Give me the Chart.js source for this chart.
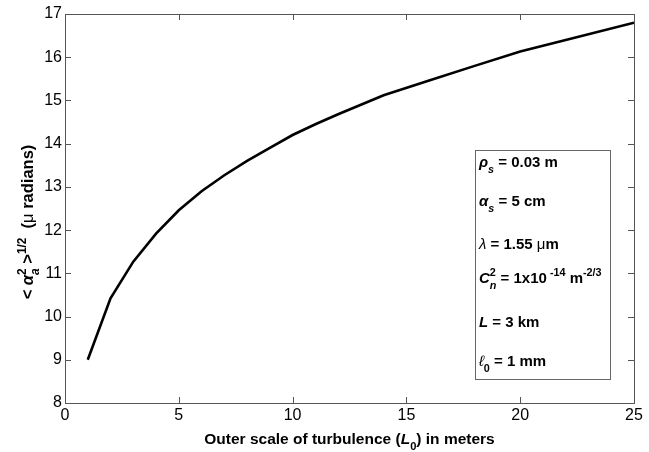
<!DOCTYPE html>
<html>
<head>
<meta charset="utf-8">
<script src="https://cdn.jsdelivr.net/npm/chart.js@4"></script>
<style>
    html, body { margin: 0; padding: 0; background: #fff; }
</style>
</head>
<body>
<canvas id="chart" width="649" height="452"></canvas>
<script>
// ---- Data ----
const outerScale = [1, 2, 3, 4, 5, 6, 7, 8, 9, 10, 11, 12, 13, 14, 16, 18, 20, 22, 25];
const rmsAngle = [9.0, 10.42, 11.27, 11.92, 12.46, 12.9, 13.27, 13.6, 13.9, 14.2, 14.45, 14.68, 14.9, 15.12, 15.46, 15.8, 16.13, 16.4, 16.8];
const xTicks = [0, 5, 10, 15, 20, 25];
const yTicks = [8, 9, 10, 11, 12, 13, 14, 15, 16, 17];

const FONT = '"Liberation Sans", Arial, Helvetica, sans-serif';

// rich text: parts of {t, k: 'sub'|'sup', i: italic, w: weight, keep: stack with next}
function richFont(p, size) {
    const sz = p.k ? size * 0.72 : size;
    return `${p.i ? 'italic ' : ''}${p.w || 'bold'} ${sz}px ${FONT}`;
}

function richWidth(ctx, parts, size) {
    let w = 0, held = 0;
    parts.forEach(p => {
        ctx.font = richFont(p, size);
        const tw = ctx.measureText(p.t).width;
        if (p.keep) { held = tw; return; }
        w += Math.max(tw, held);
        held = 0;
    });
    return w;
}

function drawRich(ctx, x, y, parts, size) {
    let cx = x, held = 0;
    ctx.textBaseline = 'alphabetic';
    ctx.textAlign = 'left';
    parts.forEach(p => {
        ctx.font = richFont(p, size);
        const dy = p.k === 'sub' ? size * 0.38 : p.k === 'sup' ? -size * 0.45 : 0;
        ctx.fillText(p.t, cx, y + dy);
        const tw = ctx.measureText(p.t).width;
        if (p.keep) { held = tw; return; }
        cx += Math.max(tw, held);
        held = 0;
    });
}

const legendLines = [
    [{t: 'ρ', i: 1}, {t: 's', k: 'sub', i: 1}, {t: ' = 0.03 m'}],
    [{t: 'α', i: 1}, {t: 's', k: 'sub', i: 1}, {t: ' = 5 cm'}],
    [{t: 'λ', i: 1, w: 'normal'}, {t: ' = 1.55 '}, {t: 'μ', w: 'normal'}, {t: 'm'}],
    [{t: 'C', i: 1}, {t: '2', k: 'sup', keep: 1}, {t: 'n', k: 'sub', i: 1}, {t: ' = 1x10'}, {t: ' -14', k: 'sup'}, {t: ' m'}, {t: '-2/3', k: 'sup'}],
    [{t: 'L', i: 1}, {t: ' = 3 km'}],
    [{t: 'ℓ', i: 1, w: 'normal'}, {t: '0', k: 'sub'}, {t: ' = 1 mm'}]
];
const legendBaselines = [167, 206, 249, 283, 327, 366];

const xTitle = [{t: 'Outer scale of turbulence ('}, {t: 'L', i: 1}, {t: '0', k: 'sub'}, {t: ') in meters'}];
const yTitle = [{t: '< '}, {t: 'α', i: 1}, {t: '2', k: 'sup', keep: 1}, {t: 'a', k: 'sub', i: 1}, {t: ' >'}, {t: '1/2', k: 'sup'}, {t: '  ('}, {t: 'μ', w: 'normal'}, {t: ' radians)'}];

const framePlugin = {
    id: 'frame',
    afterDraw(chart) {
        const ctx = chart.ctx;
        const a = chart.chartArea;
        const xs = chart.scales.x, ys = chart.scales.y;
        ctx.save();
        ctx.strokeStyle = '#555';
        ctx.lineWidth = 1;
        ctx.strokeRect(a.left + 0.5, a.top + 0.5, a.right - a.left, a.bottom - a.top);
        ctx.beginPath();
        xTicks.forEach(v => {
            const px = Math.round(xs.getPixelForValue(v)) + 0.5;
            ctx.moveTo(px, a.bottom); ctx.lineTo(px, a.bottom - 6);
            ctx.moveTo(px, a.top); ctx.lineTo(px, a.top + 6);
        });
        yTicks.forEach(v => {
            const py = Math.round(ys.getPixelForValue(v)) + 0.5;
            ctx.moveTo(a.left, py); ctx.lineTo(a.left + 6, py);
            ctx.moveTo(a.right, py); ctx.lineTo(a.right - 6, py);
        });
        ctx.stroke();

        // parameter box
        ctx.fillStyle = '#fff';
        ctx.strokeStyle = '#666';
        ctx.fillRect(475.5, 150.5, 135, 229);
        ctx.strokeRect(475.5, 150.5, 135, 229);
        ctx.fillStyle = '#000';
        legendLines.forEach((line, i) => drawRich(ctx, 479, legendBaselines[i], line, 15));

        // axis titles
        const xw = richWidth(ctx, xTitle, 15.5);
        drawRich(ctx, (a.left + a.right) / 2 - xw / 2, 444, xTitle, 15.5);

        const yw = richWidth(ctx, yTitle, 16.5);
        ctx.translate(33, 222);
        ctx.rotate(-Math.PI / 2);
        drawRich(ctx, -yw / 2, 0, yTitle, 16.5);
        ctx.restore();
    }
};

new Chart(document.getElementById('chart'), {
    type: 'line',
    data: {
        datasets: [{
            data: outerScale.map((x, i) => ({ x, y: rmsAngle[i] })),
            borderColor: '#000',
            borderWidth: 2.6,
            pointRadius: 0,
            tension: 0,
            fill: false
        }]
    },
    options: {
        responsive: false,
        animation: false,
        devicePixelRatio: 1,
        layout: { padding: { left: 0, top: 14, right: 15, bottom: 0 } },
        plugins: {
            legend: { display: false },
            tooltip: { enabled: false }
        },
        scales: {
            x: {
                type: 'linear',
                min: 0,
                max: 25,
                afterBuildTicks: s => { s.ticks = xTicks.map(v => ({ value: v })); },
                afterFit: s => { s.height = 49; },
                grid: { display: false, drawTicks: false },
                border: { display: false },
                ticks: { color: '#000', padding: 3, font: { family: FONT, size: 16 } }
            },
            y: {
                min: 8,
                max: 17,
                afterBuildTicks: s => { s.ticks = yTicks.map(v => ({ value: v })); },
                afterFit: s => { s.width = 65; },
                grid: { display: false, drawTicks: false },
                border: { display: false },
                ticks: { color: '#000', padding: 3, font: { family: FONT, size: 16 } }
            }
        }
    },
    plugins: [framePlugin]
});
</script>
</body>
</html>
